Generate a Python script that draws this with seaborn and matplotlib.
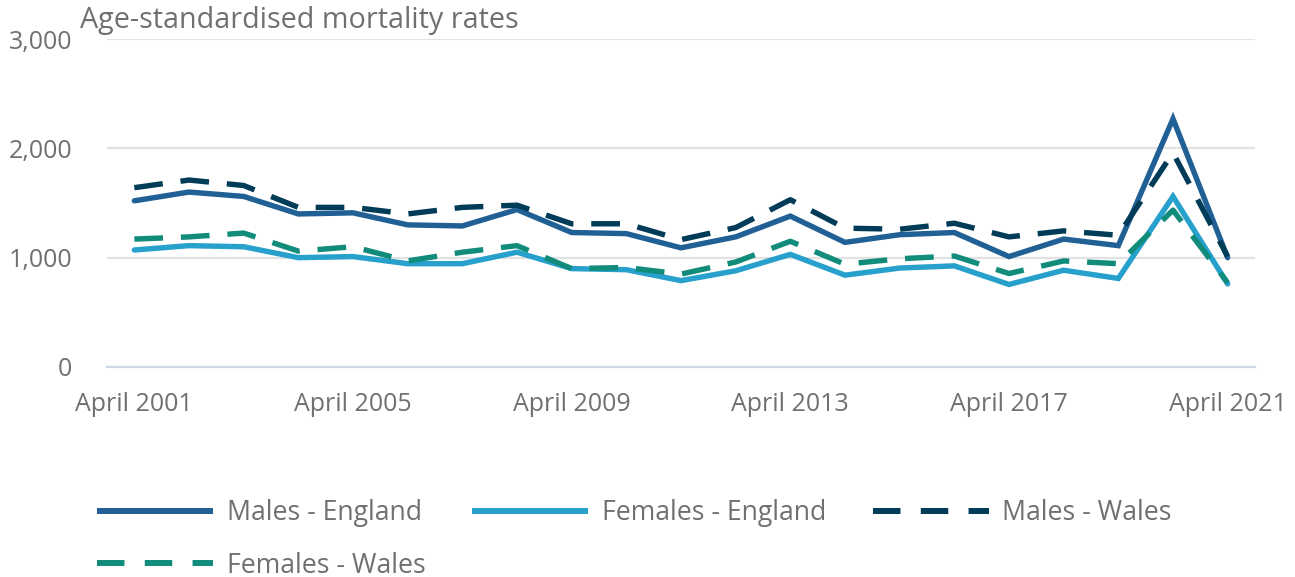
import matplotlib
matplotlib.use("Agg")
import matplotlib.pyplot as plt
from matplotlib.lines import Line2D
import seaborn as sns
import pandas as pd

years = list(range(2001, 2022))

males_england = [1520, 1600, 1560, 1400, 1410, 1300, 1290, 1440, 1230, 1220,
                 1090, 1190, 1380, 1140, 1210, 1230, 1010, 1170, 1110, 2270, 1000]
females_england = [1070, 1110, 1100, 1000, 1010, 945, 945, 1050, 900, 890,
                   790, 880, 1030, 840, 905, 925, 755, 885, 810, 1560, 760]
males_wales = [1640, 1710, 1660, 1460, 1460, 1400, 1460, 1480, 1310, 1310,
               1165, 1275, 1530, 1270, 1260, 1315, 1190, 1245, 1205, 1960, 1010]
females_wales = [1170, 1190, 1225, 1060, 1100, 970, 1050, 1110, 900, 910,
                 850, 960, 1150, 940, 990, 1015, 855, 970, 945, 1435, 770]

series_names = ["Males - England", "Females - England", "Males - Wales", "Females - Wales"]
series_values = [males_england, females_england, males_wales, females_wales]
colors = ["#206095", "#27a0cc", "#003c57", "#118c7b"]
dashed = [False, False, True, True]

tick_years = [2001, 2005, 2009, 2013, 2017, 2021]
y_ticks = [0, 1000, 2000, 3000]

text_col = "#707070"

sns.set_theme(style="white")
plt.rcParams["font.family"] = ["Open Sans", "DejaVu Sans"]

fig = plt.figure(figsize=(12.95, 5.77), dpi=100)
ax = fig.add_axes([107 / 1295, 1 - 367 / 577, (1255 - 107) / 1295, (367 - 39) / 577])

handles = {}
for name, vals, col, dsh in zip(series_names, series_values, colors, dashed):
    df = pd.DataFrame({"year": years, "rate": vals})
    sns.lineplot(data=df, x="year", y="rate", ax=ax, color=col, linewidth=3.9,
                 zorder=3)
    line = ax.lines[-1]
    line.set_solid_joinstyle("miter")
    if dsh:
        line.set_dashes([5.3, 3.3])
    # legend proxy: slightly thicker, longer dashes like the original
    proxy = Line2D([], [], color=col, linewidth=4.3, solid_capstyle="butt",
                   dash_capstyle="butt")
    if dsh:
        proxy.set_dashes([4.6, 3.4])
    handles[name] = proxy

ax.set_xlim(2000.5, 2021.5)
ax.set_ylim(0, 3000)
ax.set_yticks(y_ticks)
ax.set_yticklabels([f"{v:,}" for v in y_ticks])
ax.set_xticks(tick_years)
ax.set_xticklabels([f"April {y}" for y in tick_years])
ax.set_xlabel("")
ax.set_ylabel("")

ax.grid(axis="y", color="#e2e2e2", linewidth=1.6)
ax.grid(axis="x", visible=False)
for s in ["top", "right", "left"]:
    ax.spines[s].set_visible(False)
ax.spines["bottom"].set_color("#cfd8e8")
ax.spines["bottom"].set_linewidth(1.6)
ax.spines["bottom"].set_zorder(2)

ax.tick_params(axis="y", length=0, pad=25, labelsize=18, labelcolor=text_col)
ax.tick_params(axis="x", length=10, width=1.2, color="#cfd8e8", pad=8,
               labelsize=18, labelcolor=text_col)

fig.text(80 / 1295, 1 - 6 / 577, "Age-standardised mortality rates",
         ha="left", va="top", fontsize=20.7, color=text_col)

order = ["Males - England", "Females - Wales", "Females - England", "Males - Wales"]
leg = fig.legend([handles[n] for n in order], order, ncol=3,
                 loc="upper left", bbox_to_anchor=(97 / 1295, 1 - 499 / 577),
                 frameon=False, fontsize=19.2, handlelength=4.35,
                 handletextpad=0.52, columnspacing=1.74, labelspacing=0.92,
                 borderaxespad=0, borderpad=0)
for t in leg.get_texts():
    t.set_color(text_col)

fig.savefig("out.png", dpi=100)
